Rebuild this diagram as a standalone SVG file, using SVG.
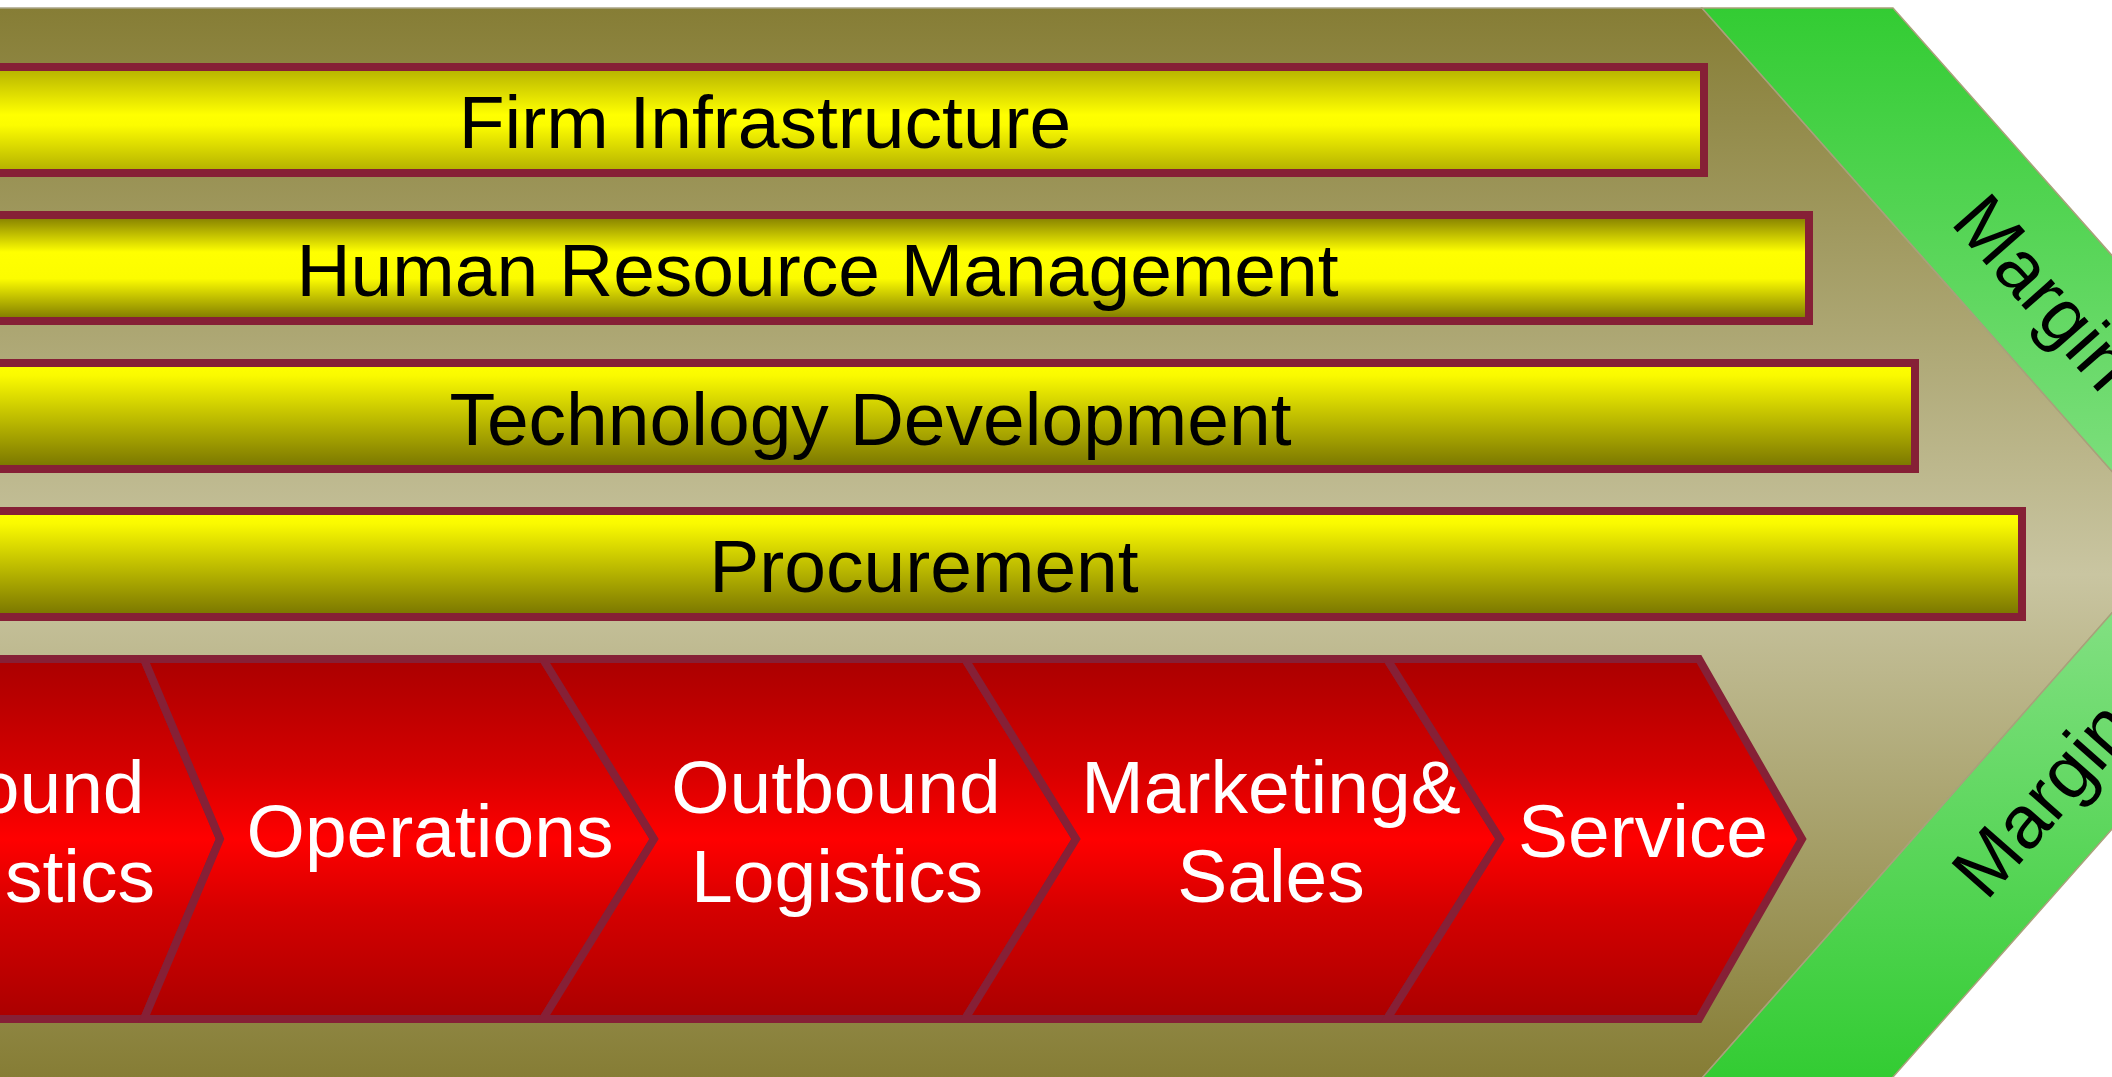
<svg xmlns="http://www.w3.org/2000/svg" width="2112" height="1077" viewBox="0 0 2112 1077">
<defs>
<linearGradient id="gBg" gradientUnits="userSpaceOnUse" x1="0" y1="8" x2="0" y2="1077">
<stop offset="0" stop-color="#867d35"/>
<stop offset="0.53" stop-color="#c9c5a1"/>
<stop offset="1" stop-color="#867d35"/>
</linearGradient>
<linearGradient id="gGreen" gradientUnits="userSpaceOnUse" x1="0" y1="8" x2="0" y2="1077">
<stop offset="0" stop-color="#33cc33"/>
<stop offset="0.52" stop-color="#8ae28a"/>
<stop offset="1" stop-color="#33cc33"/>
</linearGradient>
<linearGradient id="gY1" x1="0" y1="0" x2="0" y2="1">
<stop offset="0" stop-color="#b3b000"/>
<stop offset="0.45" stop-color="#ffff00"/>
<stop offset="0.55" stop-color="#fcfc00"/>
<stop offset="1" stop-color="#b0ad00"/>
</linearGradient>
<linearGradient id="gY2" x1="0" y1="0" x2="0" y2="1">
<stop offset="0" stop-color="#7d7800"/>
<stop offset="0.35" stop-color="#ffff00"/>
<stop offset="0.6" stop-color="#fcfc00"/>
<stop offset="1" stop-color="#787400"/>
</linearGradient>
<linearGradient id="gY3" x1="0" y1="0" x2="0" y2="1">
<stop offset="0" stop-color="#ffff00"/>
<stop offset="0.12" stop-color="#fafa00"/>
<stop offset="1" stop-color="#777300"/>
</linearGradient>
<linearGradient id="gRed" x1="0" y1="0" x2="0" y2="1">
<stop offset="0" stop-color="#aa0000"/>
<stop offset="0.3" stop-color="#d40000"/>
<stop offset="0.5" stop-color="#ff0000"/>
<stop offset="0.7" stop-color="#d40000"/>
<stop offset="1" stop-color="#aa0000"/>
</linearGradient>
<style>
.bar{stroke:#862036;stroke-width:8}
.chev{fill:url(#gRed);stroke:#862036;stroke-width:8;stroke-linejoin:miter}
.tb{font-family:"Liberation Sans",Arial,sans-serif;font-size:75px;fill:#000;text-anchor:middle}
.tw{font-family:"Liberation Sans",Arial,sans-serif;font-size:75px;fill:#fff;text-anchor:middle}
</style>
</defs>
<rect x="0" y="0" width="2112" height="1077" fill="#ffffff"/>
<g id="background">
<polygon points="-10,8 1702,8 2174.5,542 1691.5,1090 -10,1090" fill="url(#gBg)" stroke="#aaa588" stroke-width="1.5"/>
</g>
<g id="margin">
<polygon points="1702,8 1893,8 2365.5,542 1881.5,1090 1691.5,1090 2174.5,542" fill="url(#gGreen)" stroke="#a9a07a" stroke-width="1.5"/>
<text class="tb" x="2025" y="309" transform="rotate(48.6 2025 309)">Margin</text>
<text class="tb" x="2062" y="816" transform="rotate(-48.6 2062 816)">Margin</text>
</g>
<g id="firm-infrastructure">
<rect class="bar" x="-174" y="67" width="1878" height="106" fill="url(#gY1)"/>
<text class="tb" x="765" y="148">Firm Infrastructure</text>
</g>
<g id="human-resource-management">
<rect class="bar" x="-174" y="215" width="1983" height="106" fill="url(#gY2)"/>
<text class="tb" x="817.5" y="296">Human Resource Management</text>
</g>
<g id="technology-development">
<rect class="bar" x="-174" y="363" width="2089" height="106" fill="url(#gY3)"/>
<text class="tb" x="870.5" y="445">Technology Development</text>
</g>
<g id="procurement">
<rect class="bar" x="-174" y="511" width="2196" height="106" fill="url(#gY3)"/>
<text class="tb" x="924" y="592">Procurement</text>
</g>
<g id="inbound-logistics">
<polygon class="chev" points="-300,659 144,659 220,839 144,1019 -300,1019 -224,839"/>
<text class="tw" x="9" y="813">Inbound</text>
<text class="tw" x="9" y="902">Logistics</text>
</g>
<g id="operations">
<polygon class="chev" points="144,659 543,659 654,839 543,1019 144,1019 220,839"/>
<text class="tw" x="430" y="857">Operations</text>
</g>
<g id="outbound-logistics">
<polygon class="chev" points="543,659 965,659 1076,839 965,1019 543,1019 654,839"/>
<text class="tw" x="836" y="813">Outbound</text>
<text class="tw" x="837" y="902">Logistics</text>
</g>
<g id="marketing-sales">
<polygon class="chev" points="965,659 1387,659 1500,839 1387,1019 965,1019 1076,839"/>
<text class="tw" x="1271" y="813">Marketing&amp;</text>
<text class="tw" x="1271" y="902">Sales</text>
</g>
<g id="service">
<polygon class="chev" points="1387,659 1699,659 1802,839 1699,1019 1387,1019 1500,839"/>
<text class="tw" x="1643" y="857">Service</text>
</g>
<g id="connectors"/>
</svg>
